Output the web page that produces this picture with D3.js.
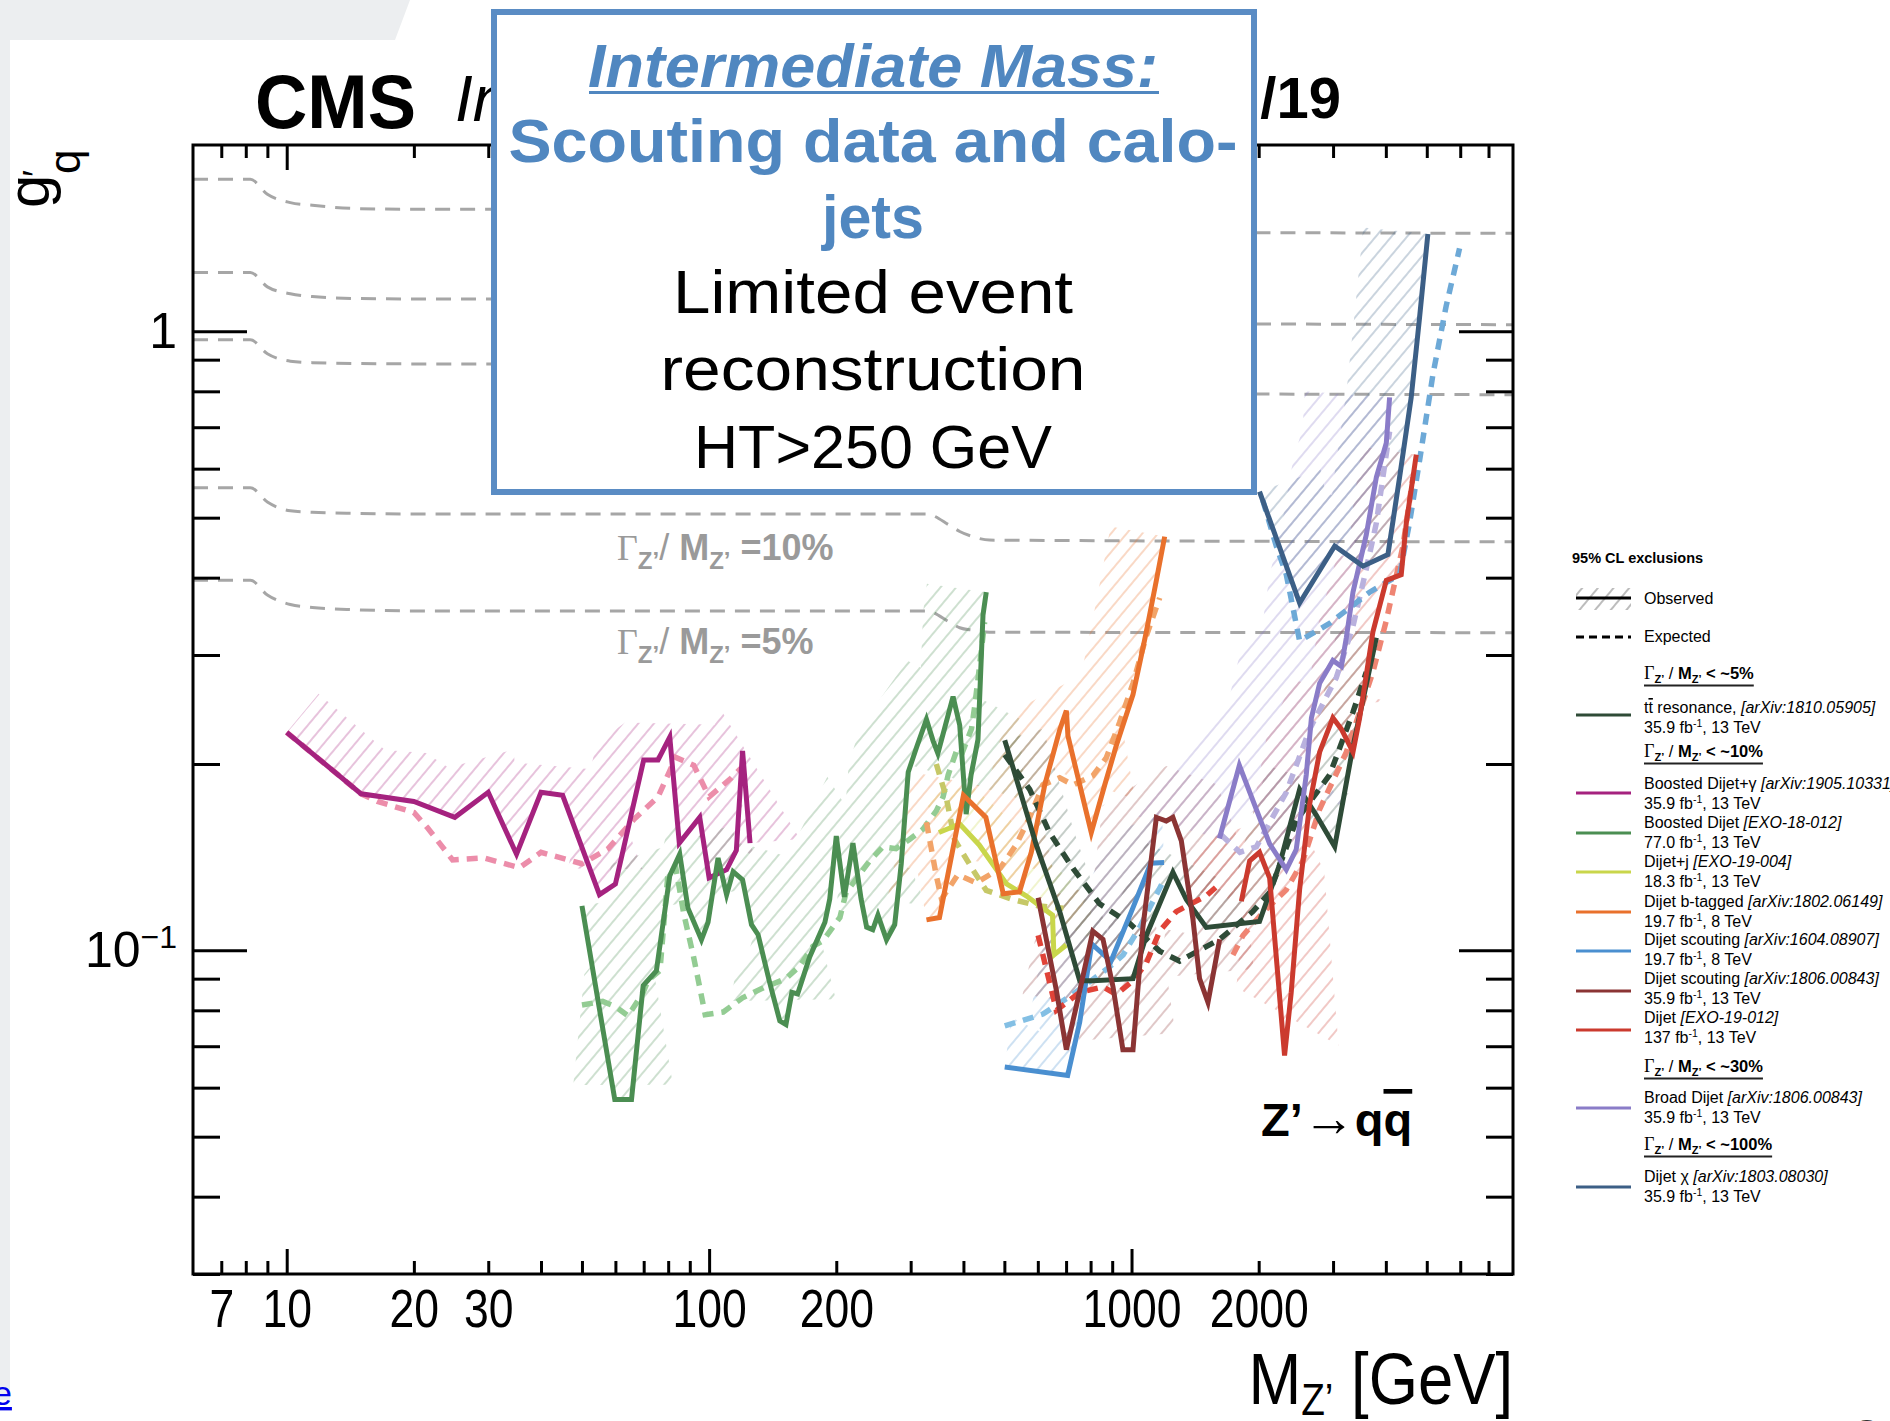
<!DOCTYPE html>
<html>
<head>
<meta charset="utf-8">
<script src="https://cdn.jsdelivr.net/npm/d3@7"></script>
<style>
  body { margin: 0; background: #fff; }
  svg { display: block; }
  text { font-family: "Liberation Sans", Arial, Helvetica, sans-serif; }
</style>
</head>
<body>
<svg id="chart" width="1890" height="1421"></svg>
<script>
// ---------------- data (mass in GeV, coupling g'q) ----------------
const xMajorTicks = [10, 100, 1000];
const xMinorTicks = [7, 8, 9, 20, 30, 40, 50, 60, 70, 80, 90, 200, 300, 400, 500, 600, 700, 800, 900,
  2000, 3000, 4000, 5000, 6000, 7000];
const xLabelTicks = [7, 10, 20, 30, 100, 200, 1000, 2000];
const yMajorTicks = [0.1, 1];
const yMinorTicks = [0.03, 0.04, 0.05, 0.06, 0.07, 0.08, 0.09, 0.2, 0.3, 0.4, 0.5, 0.6, 0.7, 0.8, 0.9];
const yLabelTicks = [0.1, 1];

// constant Gamma/M contours
const widthMass = [6, 8.2, 9, 10.2, 11.5, 14.6, 20, 326, 371, 392, 421, 461, 8000];
const widthG100 = [1.76, 1.76, 1.665, 1.614, 1.598, 1.579, 1.575, 1.575, 1.51, 1.48, 1.465, 1.452, 1.44];
const widthG50 = [1.245, 1.245, 1.18, 1.15, 1.138, 1.13, 1.128, 1.128, 1.082, 1.06, 1.045, 1.035, 1.025];
const widthG30 = [0.969, 0.969, 0.92, 0.895, 0.89, 0.887, 0.886, 0.886, 0.85, 0.83, 0.81, 0.797, 0.79];
const widthG10 = [0.559, 0.559, 0.53, 0.513, 0.51, 0.508, 0.507, 0.507, 0.486, 0.475, 0.466, 0.46, 0.457];
const widthG5 = [0.396, 0.396, 0.375, 0.362, 0.358, 0.355, 0.3535, 0.3535, 0.339, 0.332, 0.329, 0.3265, 0.326];

const ttbarObs = [[501,0.2185],[595,0.148],[676,0.1155],[754,0.0893],[810,0.0893],[1008,0.090],[1084,0.1057],
  [1253,0.1337],[1349,0.1207],[1503,0.1089],[2009,0.1113],[2242,0.1377],[2500,0.182],[2737,0.1654],
  [3027,0.147],[3344,0.2135],[3798,0.320]];
const ttbarExp = [[501,0.207],[574,0.182],[640,0.1548],[727,0.1356],[840,0.1189],[990,0.1105],[1166,0.0997],
  [1300,0.0961],[1617,0.1042],[1937,0.1155],[2123,0.124],[2454,0.162],[2944,0.192],[3344,0.2425],[3595,0.2816]];

const gammaObs = [[10,0.225],[15,0.179],[20,0.174],[25,0.164],[30,0.180],[35,0.143],[40,0.180],[45,0.178],
  [55,0.123],[60,0.128],[70,0.203],[75.7,0.203],[80.7,0.221],[85,0.149],[95,0.164],[100,0.131],[110,0.135],
  [116,0.145],[120,0.210],[125,0.149]];
const gammaExp = [[10,0.225],[15,0.179],[16.4,0.174],[20,0.167],[21.5,0.158],[24.7,0.140],[29.3,0.141],
  [35.6,0.136],[40,0.144],[50,0.138],[57.7,0.146],[66.5,0.163],[75.7,0.177],[83.4,0.205],[92,0.199],
  [100,0.177],[113,0.190],[119,0.197]];

const boostedObs = [[50,0.118],[59.8,0.0574],[65.5,0.0574],[69.8,0.0877],[75,0.0926],[80.7,0.132],[85.2,0.143],
  [89.1,0.117],[95.9,0.104],[99.4,0.111],[105,0.141],[110,0.123],[114,0.134],[120,0.130],[126,0.110],
  [130.6,0.106],[139,0.0889],[147,0.0769],[152,0.0759],[157,0.0855],[162,0.085],[173,0.0976],[188,0.111],
  [193,0.121],[200,0.153],[209,0.122],[219,0.149],[229,0.121],[236,0.109],[244,0.108],[251,0.114],
  [263,0.104],[275,0.110],[285,0.138],[296,0.194],[310,0.213],[327,0.236],[339,0.218],[348,0.208],
  [378,0.257],[392,0.231],[406,0.166],[417,0.192],[433,0.219],[445,0.348],[453,0.379]];
const boostedExp = [[50,0.0816],[56,0.0827],[60,0.0811],[64.3,0.0784],[69.8,0.0855],[71.7,0.0894],[76.5,0.0928],
  [79.9,0.133],[83.4,0.136],[87.1,0.1145],[91.9,0.0975],[97.9,0.0787],[108,0.0795],[120,0.0838],[135,0.0871],
  [152,0.090],[164,0.0944],[176,0.1015],[186,0.1036],[204,0.113],[211,0.124],[223,0.1305],[240,0.1395],
  [258,0.147],[277,0.146],[298,0.151],[321,0.157],[345,0.168],[358,0.177],[368,0.192],[388,0.213],
  [399,0.210],[418,0.228],[425,0.247],[433,0.274],[441,0.305],[449,0.339]];

const dijetjObs = [[350,0.155],[392,0.160],[436,0.148],[506,0.128],[563,0.1225],[617,0.117],[650,0.114],
  [655,0.0983],[701,0.102]];
const dijetjExp = [[345,0.200],[364,0.177],[381,0.151],[421,0.135],[453,0.125],[520,0.121],[600,0.118],[690,0.117]];

const btagObs = [[327,0.112],[351,0.113],[400,0.178],[452,0.164],[497,0.1234],[543,0.1243],[579,0.144],
  [623,0.185],[676,0.227],[701,0.244],[707,0.222],[803,0.155],[864,0.185],[920,0.214],[1008,0.259],
  [1055,0.2995],[1084,0.327],[1145,0.396],[1198,0.466]];
const btagExp = [[327,0.161],[345,0.132],[355,0.121],[388,0.1325],[429,0.1285],[488,0.1356],[533,0.148],
  [574,0.164],[617,0.185],[676,0.190],[727,0.185],[810,0.1915],[871,0.2045],[937,0.2335],[1008,0.270],
  [1084,0.322],[1166,0.371]];

const scout8Obs = [[501,0.0648],[706,0.0628],[754,0.0766],[805,0.1024],[894,0.096],[1008,0.1172],[1111,0.1383],[1194,0.1386]];
const scout8Exp = [[501,0.0755],[617,0.0789],[726,0.0849],[887,0.094],[955,0.0983],[1045,0.1089],[1187,0.129]];

const scout13Obs = [[601,0.1216],[664,0.0861],[701,0.0691],[740,0.0812],[810,0.1074],[856,0.1042],[904,0.0873],
  [954,0.0691],[1008,0.0691],[1064,0.1089],[1145,0.164],[1209,0.1618],[1253,0.164],[1312,0.1503],
  [1398,0.1121],[1449,0.090],[1517,0.0824],[1617,0.1042]];
const scout13Exp = [[601,0.1057],[664,0.080],[754,0.0855],[856,0.0873],[920,0.0849],[1008,0.0893],[1084,0.0954],
  [1166,0.1074],[1276,0.1155],[1503,0.1225],[1617,0.128]];

const exoObs = [[1820,0.120],[1904,0.1395],[2009,0.144],[2123,0.1308],[2303,0.0676],[2388,0.0855],[2500,0.1254],
  [2641,0.1725],[2788,0.209],[2997,0.2375],[3139,0.2277],[3344,0.209],[3468,0.2375],[3728,0.327],
  [4010,0.396],[4350,0.4045],[4472,0.490],[4722,0.632]];
const exoExp = [[1738,0.0983],[1836,0.1057],[2046,0.1151],[2325,0.1253],[2545,0.1395],[2788,0.169],[3225,0.209],
  [3728,0.2816],[4010,0.341],[4391,0.450],[4636,0.581]];

const broadObs = [[1615,0.1516],[1800,0.199],[2123,0.1486],[2325,0.135],[2454,0.1455],[2592,0.192],[2666,0.2375],
  [2788,0.270],[2997,0.294],[3139,0.2875],[3225,0.320],[3344,0.379],[3595,0.469],[3798,0.581],[4010,0.660],[4083,0.782]];
const broadExp = [[1629,0.1537],[1806,0.144],[1975,0.147],[2325,0.180],[2641,0.2277],[3053,0.2757],[3344,0.334],
  [3595,0.413],[3798,0.490],[3936,0.581],[4083,0.689]];

const chiObs = [[2009,0.551],[2500,0.364],[3027,0.450],[3530,0.4175],[4046,0.436],[4311,0.581],[4593,0.782],
  [4808,1.054],[5030,1.436]];
const chiExp = [[2046,0.533],[2201,0.450],[2325,0.4045],[2500,0.316],[2944,0.3375],[3662,0.379],[4311,0.4045],
  [4550,0.490],[4808,0.619],[5171,0.852],[5559,1.100],[5978,1.361]];

// legend texts
const legendNames = ["resonance, ", "Boosted Dijet+\u03b3 ", "Boosted Dijet ", "Dijet+j ", "Dijet b-tagged ",
  "Dijet scouting ", "Dijet scouting ", "Dijet ", "Broad Dijet ", "Dijet \u03c7 "];
const legendRefs = ["[arXiv:1810.05905]", "[arXiv:1905.10331]", "[EXO-18-012]", "[EXO-19-004]", "[arXiv:1802.06149]",
  "[arXiv:1604.08907]", "[arXiv:1806.00843]", "[EXO-19-012]", "[arXiv:1806.00843]", "[arXiv:1803.08030]"];
const legendLumi = ["35.9", "35.9", "77.0", "18.3", "19.7", "19.7", "35.9", "137", "35.9", "35.9"];
const legendEnergy = ["13", "13", "13", "13", "8", "8", "13", "13", "13", "13"];
const widthGroups = ["5%", "10%", "30%", "100%"];

// ---------------- layout ----------------
const frameLeft = 193, frameRight = 1513, frameTop = 145, frameBottom = 1274;
const serif = "'Liberation Serif', 'Times New Roman', serif";

const x = d3.scaleLog().domain([6, 8000]).range([frameLeft, frameRight]);
const y = d3.scaleLog().domain([0.03, 2]).range([frameBottom, frameTop]);

const svg = d3.select("#chart");
const defs = svg.append("defs");

defs.append("clipPath").attr("id", "plotClip")
  .append("rect").attr("x", frameLeft).attr("y", frameTop)
  .attr("width", frameRight - frameLeft).attr("height", frameBottom - frameTop);
defs.append("clipPath").attr("id", "leftOfBox")
  .append("rect").attr("x", 0).attr("y", 0).attr("width", 494).attr("height", 200);

function addHatch(id, color, opacity) {
  const p = defs.append("pattern").attr("id", id)
    .attr("patternUnits", "userSpaceOnUse")
    .attr("width", 12).attr("height", 12)
    .attr("patternTransform", "rotate(40)");
  p.append("line").attr("x1", 6).attr("x2", 6).attr("y1", -1).attr("y2", 13)
    .attr("stroke", color).attr("stroke-width", 1.1).attr("stroke-opacity", opacity);
}

// slide background bits
svg.append("path")
  .attr("d", "M0,0 H410 L395,40 H10 V1400 H0 Z")
  .attr("fill", "#eceef0");

const analyses = [
  { obs: gammaObs, exp: gammaExp, color: "#a5227f", expColor: "#ec8daa", band: 50 },
  { obs: boostedObs, exp: boostedExp, color: "#4b8e52", expColor: "#93cc93", band: 60 },
  { obs: dijetjObs, exp: dijetjExp, color: "#c9d64b", expColor: "#c6c867", band: 40 },
  { obs: btagObs, exp: btagExp, color: "#e9712c", expColor: "#f2a469", band: 55 },
  { obs: scout8Obs, exp: scout8Exp, color: "#4a8fd0", expColor: "#83bfe4", band: 50 },
  { obs: ttbarObs, exp: ttbarExp, color: "#2e4b37", expColor: "#2e4b37", band: 40 },
  { obs: scout13Obs, exp: scout13Exp, color: "#8b3434", expColor: "#e04338", band: 55 },
  { obs: exoObs, exp: exoExp, color: "#cb3a2e", expColor: "#ef8573", band: 55 },
  { obs: broadObs, exp: broadExp, color: "#8a7cc8", expColor: "#b9b1de", band: 85 },
  { obs: chiObs, exp: chiExp, color: "#3c5f86", expColor: "#6da9d7", band: 65 }
];
analyses.forEach((a, i) => addHatch("hatch" + i, a.color, 0.5));
addHatch("hatchLegend", "#777", 0.9);

const plot = svg.append("g").attr("clip-path", "url(#plotClip)");

// Gamma/M contours
const widthCurves = [widthG100, widthG50, widthG30, widthG10, widthG5];
const widthLine = d3.line()
  .x((d, i) => x(widthMass[i]))
  .y(d => y(d))
  .curve(d3.curveMonotoneX);
plot.append("g").selectAll("path").data(widthCurves).join("path")
  .attr("d", widthLine)
  .attr("fill", "none")
  .attr("stroke", "#a6a6a6")
  .attr("stroke-width", 3)
  .attr("stroke-dasharray", "15,10");

// hatched exclusion side
function bandPath(data, d) {
  const pts = data.map(p => [x(p[0]), y(p[1])]);
  const off = pts.map((p, i) => {
    const a = pts[Math.max(0, i - 1)], b = pts[Math.min(pts.length - 1, i + 1)];
    let tx = b[0] - a[0], ty = b[1] - a[1];
    const len = Math.hypot(tx, ty) || 1;
    tx /= len; ty /= len;
    return [p[0] + ty * d, p[1] - tx * d];
  });
  return "M" + pts.concat(off.reverse()).map(p => p[0].toFixed(1) + "," + p[1].toFixed(1)).join("L") + "Z";
}

const curve = d3.line().x(d => x(d[0])).y(d => y(d[1]));

plot.append("g").selectAll("path").data(analyses).join("path")
  .attr("d", a => bandPath(a.obs, a.band))
  .attr("fill", (a, i) => `url(#hatch${i})`)
  .attr("stroke", "none");

plot.append("g").selectAll("path").data(analyses).join("path")
  .attr("d", a => curve(a.exp))
  .attr("fill", "none")
  .attr("stroke", a => a.expColor)
  .attr("stroke-width", 5.5)
  .attr("stroke-dasharray", "11,8");

plot.append("g").selectAll("path").data(analyses).join("path")
  .attr("d", a => curve(a.obs))
  .attr("fill", "none")
  .attr("stroke", a => a.color)
  .attr("stroke-width", 5)
  .attr("stroke-linejoin", "miter");

// rich text helper
function rich(sel, parts) {
  parts.forEach(([t, o]) => {
    o = o || {};
    const ts = sel.append("tspan").text(t);
    if (o.b) ts.attr("font-weight", "bold");
    if (o.i) ts.attr("font-style", "italic");
    if (o.serif) ts.attr("font-family", serif);
    if (o.size) ts.attr("font-size", o.size);
    if (o.dy) ts.attr("dy", o.dy);
    if (o.dx) ts.attr("dx", o.dx);
    if (o.over) ts.attr("text-decoration", "overline");
  });
  return sel;
}

// width labels
[["=10%", 560], ["=5%", 654]].forEach(([lab, yy]) => {
  rich(svg.append("text").attr("x", 617).attr("y", yy).attr("font-size", 36).attr("fill", "#9a9a9a"), [
    ["\u0393", { serif: true }], ["Z\u2019", { size: 24, dy: 9, b: true }], ["/ ", { dy: -9 }],
    ["M", { b: true }], ["Z\u2019", { size: 24, dy: 9, b: true }], [" " + lab, { dy: -9, b: true }]
  ]);
});

// process label
rich(svg.append("text").attr("x", 1261).attr("y", 1136).attr("font-size", 47).attr("fill", "#000"), [
  ["Z\u2019", { b: true }], ["\u2192", { size: 52 }], ["q", { b: true }], ["q", { b: true, over: true }]
]);

// ---------------- axes ----------------
function styleAxis(g) {
  g.select(".domain").remove();
  g.selectAll("line").attr("stroke", "#000").attr("stroke-width", 3);
}
svg.append("g").attr("transform", `translate(0,${frameBottom})`)
  .call(d3.axisBottom(x).tickValues(xMinorTicks).tickSize(-13).tickFormat("")).call(styleAxis);
svg.append("g").attr("transform", `translate(0,${frameBottom})`)
  .call(d3.axisBottom(x).tickValues(xMajorTicks).tickSize(-25).tickFormat("")).call(styleAxis);
svg.append("g").attr("transform", `translate(0,${frameTop})`)
  .call(d3.axisTop(x).tickValues(xMinorTicks).tickSize(-13).tickFormat("")).call(styleAxis);
svg.append("g").attr("transform", `translate(0,${frameTop})`)
  .call(d3.axisTop(x).tickValues(xMajorTicks).tickSize(-25).tickFormat("")).call(styleAxis);
svg.append("g").attr("transform", `translate(${frameLeft},0)`)
  .call(d3.axisLeft(y).tickValues(yMinorTicks).tickSize(-27).tickFormat("")).call(styleAxis);
svg.append("g").attr("transform", `translate(${frameLeft},0)`)
  .call(d3.axisLeft(y).tickValues(yMajorTicks).tickSize(-54).tickFormat("")).call(styleAxis);
svg.append("g").attr("transform", `translate(${frameRight},0)`)
  .call(d3.axisRight(y).tickValues(yMinorTicks).tickSize(-27).tickFormat("")).call(styleAxis);
svg.append("g").attr("transform", `translate(${frameRight},0)`)
  .call(d3.axisRight(y).tickValues(yMajorTicks).tickSize(-54).tickFormat("")).call(styleAxis);

const xLab = svg.append("g").attr("transform", `translate(0,${frameBottom})`)
  .call(d3.axisBottom(x).tickValues(xLabelTicks).tickSize(0).tickPadding(15).tickFormat(d3.format("d")));
xLab.select(".domain").remove();
xLab.attr("font-family", null).attr("font-size", null);
xLab.selectAll("text").attr("font-size", 53).attr("fill", "#000").attr("transform", "scale(0.84,1)");

const yLab = svg.append("g").attr("transform", `translate(${frameLeft},0)`)
  .call(d3.axisLeft(y).tickValues(yLabelTicks).tickSize(0).tickPadding(16)
    .tickFormat(d => d === 1 ? "1" : "10"));
yLab.select(".domain").remove();
yLab.attr("font-family", null).attr("font-size", null);
yLab.selectAll("text").attr("font-size", 50).attr("fill", "#000")
  .each(function (d) {
    if (d === 0.1) {
      d3.select(this).append("tspan").attr("dy", "-0.6em").attr("font-size", 32).text("\u22121");
    }
  });

// frame
svg.append("rect")
  .attr("x", frameLeft).attr("y", frameTop)
  .attr("width", frameRight - frameLeft).attr("height", frameBottom - frameTop)
  .attr("fill", "none").attr("stroke", "#000").attr("stroke-width", 3);

// axis titles
rich(svg.append("text").attr("text-anchor", "end").attr("font-size", 72).attr("fill", "#000")
  .attr("transform", `translate(${frameRight},1404) scale(0.88,1)`), [
  ["M"], ["Z\u2019", { size: 44, dy: 11 }], [" [GeV]", { dy: -11 }]
]);
rich(svg.append("text").attr("font-size", 60).attr("fill", "#000")
  .attr("transform", "translate(49,208) rotate(-90)"), [
  ["g"], ["\u2032", { size: 36, dx: -2 }], ["q", { size: 44, dx: -4, dy: 31 }]
]);

// CMS label (the part under the box is hidden by it)
svg.append("text").attr("x", 255).attr("y", 128).attr("font-size", 76).attr("font-weight", "bold")
  .attr("textLength", 161).attr("lengthAdjust", "spacingAndGlyphs").text("CMS");
svg.append("text").attr("x", 455).attr("y", 121).attr("font-size", 64).attr("font-style", "italic")
  .attr("clip-path", "url(#leftOfBox)").text("In");
svg.append("text").attr("x", 1341).attr("y", 118).attr("font-size", 58).attr("font-weight", "bold")
  .attr("text-anchor", "end").text("/19");

// ---------------- annotation box ----------------
const boxBlue = "#5087c0";
svg.append("rect").attr("x", 494).attr("y", 12).attr("width", 760).attr("height", 480)
  .attr("fill", "#fff").attr("stroke", "#5a8cc4").attr("stroke-width", 6);
const boxFont = "Lato, 'Open Sans', sans-serif";
const boxLines = [
  { t: "Intermediate Mass:", y: 87, len: 570, w: "bold", s: "italic", c: boxBlue },
  { t: "Scouting data and calo-", y: 162, len: 729, w: "bold", s: "normal", c: boxBlue },
  { t: "jets", y: 238, len: 102, w: "bold", s: "normal", c: boxBlue },
  { t: "Limited event", y: 313, len: 400, w: "normal", s: "normal", c: "#000" },
  { t: "reconstruction", y: 390, len: 425, w: "normal", s: "normal", c: "#000" },
  { t: "HT>250 GeV", y: 468, len: 358, w: "normal", s: "normal", c: "#000" }
];
svg.append("g").selectAll("text").data(boxLines).join("text")
  .attr("x", 873).attr("y", d => d.y)
  .attr("text-anchor", "middle")
  .attr("font-family", boxFont)
  .attr("font-size", 62)
  .attr("font-weight", d => d.w)
  .attr("font-style", d => d.s)
  .attr("fill", d => d.c)
  .attr("textLength", d => d.len)
  .attr("lengthAdjust", "spacingAndGlyphs")
  .text(d => d.t);
svg.append("line").attr("x1", 589).attr("x2", 1159).attr("y1", 92.5).attr("y2", 92.5)
  .attr("stroke", boxBlue).attr("stroke-width", 3);

// ---------------- legend ----------------
const lg = svg.append("g").attr("font-size", 16).attr("fill", "#000");
const lx0 = 1576, lx1 = 1631, tx = 1644;

lg.append("text").attr("x", 1572).attr("y", 563).attr("font-size", 14.5).attr("font-weight", "bold")
  .text("95% CL exclusions");
lg.append("rect").attr("x", lx0).attr("y", 588).attr("width", lx1 - lx0).attr("height", 22)
  .attr("fill", "url(#hatchLegend)");
lg.append("line").attr("x1", lx0).attr("x2", lx1).attr("y1", 598).attr("y2", 598)
  .attr("stroke", "#000").attr("stroke-width", 3);
lg.append("text").attr("x", tx).attr("y", 604).text("Observed");
lg.append("line").attr("x1", lx0).attr("x2", lx1).attr("y1", 637).attr("y2", 637)
  .attr("stroke", "#000").attr("stroke-width", 3).attr("stroke-dasharray", "8,5");
lg.append("text").attr("x", tx).attr("y", 642).text("Expected");

const headerY = [679, 757, 1072, 1150];
widthGroups.forEach((wg, i) => {
  const t = rich(lg.append("text").attr("x", tx).attr("y", headerY[i]).attr("font-size", 16.5), [
    ["\u0393", { serif: true, size: 18 }], ["Z\u2019", { size: 11, dy: 4, b: true }], [" / ", { dy: -4 }],
    ["M", { b: true }], ["Z\u2019", { size: 11, dy: 4, b: true }], [" < ~" + wg, { dy: -4, b: true }]
  ]);
  const w = t.node().getComputedTextLength();
  lg.append("line").attr("x1", tx).attr("x2", tx + w).attr("y1", headerY[i] + 6.5).attr("y2", headerY[i] + 6.5)
    .attr("stroke", "#222").attr("stroke-width", 2);
});

// order of legend rows: ttbar first, then the 10% group, 30% and 100%
const legendOrder = [5, 0, 1, 2, 3, 4, 6, 7, 8, 9];
const rowLineY = [715, 793, 833, 872, 912, 951, 991, 1030, 1108, 1187];
const rowTextY = [713, 789, 828, 867, 907, 945, 984, 1023, 1103, 1182];
legendOrder.forEach((ai, r) => {
  lg.append("line").attr("x1", lx0).attr("x2", lx1).attr("y1", rowLineY[r]).attr("y2", rowLineY[r])
    .attr("stroke", analyses[ai].color).attr("stroke-width", 3);
  const t1 = lg.append("text").attr("x", tx).attr("y", rowTextY[r]);
  if (r === 0) rich(t1, [["t"], ["t", { over: true }], [" "]]);
  rich(t1, [[legendNames[r]], [legendRefs[r], { i: true }]]);
  rich(lg.append("text").attr("x", tx).attr("y", rowTextY[r] + 20), [
    [legendLumi[r] + " fb"], ["-1", { size: 10.5, dy: -6 }], [", " + legendEnergy[r] + " TeV", { dy: 6 }]
  ]);
});

// stray slide elements at the edges
svg.append("text").attr("x", -7).attr("y", 1405).attr("font-size", 34).attr("fill", "#0000ee")
  .attr("text-decoration", "underline").text("e");
svg.append("text").attr("x", 1854).attr("y", 1452).attr("font-size", 46).attr("fill", "#333")
  .attr("font-weight", "bold").text("2");
</script>
</body>
</html>
